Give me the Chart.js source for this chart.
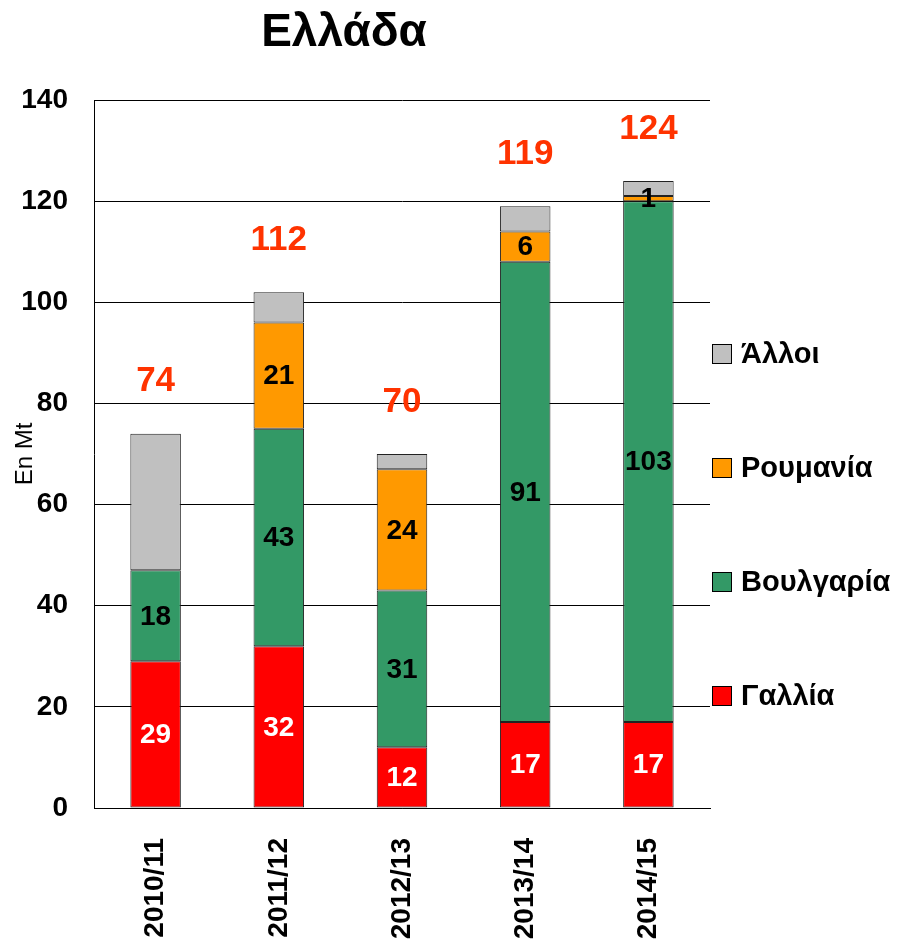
<!DOCTYPE html>
<html>
<head>
<meta charset="utf-8">
<script src="https://cdn.jsdelivr.net/npm/chart.js@4"></script>
<style>
  body { margin: 0; background: #fff; }
</style>
</head>
<body>
<canvas id="chart" width="898" height="940"></canvas>
<script>
// data
const seasons = ["2010/11", "2011/12", "2012/13", "2013/14", "2014/15"];
const gallia = [29, 32, 12, 17, 17];
const voulgaria = [18, 43, 31, 91, 103];
const roumania = [0, 21, 24, 6, 1];
const alloi = [27, 6, 3, 5, 3];
const totals = [74, 112, 70, 119, 124];
const yTicks = [0, 20, 40, 60, 80, 100, 120, 140];

const FONT = "'Liberation Sans', Arial, sans-serif";

// numbers inside the segments (not for "Άλλοι")
const segmentLabels = {
  id: "segmentLabels",
  afterDatasetsDraw(chart) {
    const ctx = chart.ctx;
    ctx.save();
    ctx.font = "bold 28px " + FONT;
    ctx.textAlign = "center";
    ctx.textBaseline = "middle";
    chart.data.datasets.forEach((ds, i) => {
      if (!ds.showValues) return;
      const meta = chart.getDatasetMeta(i);
      meta.data.forEach((bar, j) => {
        const v = ds.data[j];
        if (!v) return;
        ctx.fillStyle = ds.valueColor;
        ctx.fillText(v, bar.x, (bar.y + bar.base) / 2 + 1);
      });
    });

    // totals above each stack
    const yScale = chart.scales.y;
    ctx.font = "bold 35px " + FONT;
    ctx.fillStyle = "#FF3300";
    const meta0 = chart.getDatasetMeta(0);
    totals.forEach((t, j) => {
      let top = 0;
      chart.data.datasets.forEach(ds => { top += ds.data[j]; });
      ctx.fillText(t, meta0.data[j].x, yScale.getPixelForValue(top) - 52);
    });
    ctx.restore();
  }
};

// title and legend on the right
const decorations = {
  id: "decorations",
  afterDraw(chart) {
    const ctx = chart.ctx;
    ctx.save();
    ctx.fillStyle = "#000";
    ctx.font = "bold 46px " + FONT;
    ctx.textAlign = "center";
    ctx.textBaseline = "middle";
    ctx.fillText("Ελλάδα", 344, 33);

    // legend, last dataset first
    const items = chart.data.datasets.slice().reverse();
    ctx.font = "bold 29px " + FONT;
    ctx.textAlign = "left";
    items.forEach((ds, k) => {
      const cy = 354 + k * 114;
      ctx.fillStyle = ds.backgroundColor;
      ctx.fillRect(712, cy - 10, 19, 19);
      ctx.strokeStyle = "#000";
      ctx.lineWidth = 1;
      ctx.strokeRect(712.5, cy - 9.5, 19, 19);
      ctx.fillStyle = "#000";
      ctx.fillText(ds.label, 741, cy + 1);
    });
    ctx.restore();
  }
};

const ctx = document.getElementById("chart").getContext("2d");

new Chart(ctx, {
  type: "bar",
  data: {
    labels: seasons,
    datasets: [
      { label: "Γαλλία", data: gallia, backgroundColor: "#FF0000", showValues: true, valueColor: "#fff" },
      { label: "Βουλγαρία", data: voulgaria, backgroundColor: "#339966", showValues: true, valueColor: "#000" },
      { label: "Ρουμανία", data: roumania, backgroundColor: "#FF9900", showValues: true, valueColor: "#000" },
      { label: "Άλλοι", data: alloi, backgroundColor: "#C0C0C0", showValues: false }
    ]
  },
  options: {
    responsive: false,
    animation: false,
    datasets: {
      bar: {
        borderColor: "#222",
        borderWidth: 1,
        borderSkipped: false,
        barPercentage: 0.41,
        categoryPercentage: 1
      }
    },
    layout: {
      padding: { top: 100, right: 188, left: 0, bottom: 0 }
    },
    plugins: {
      legend: { display: false },
      title: { display: false },
      tooltip: { enabled: false }
    },
    scales: {
      x: {
        stacked: true,
        grid: { display: false, drawTicks: false },
        border: { display: true, color: "#000", width: 1 },
        ticks: {
          color: "#000",
          font: { family: FONT, size: 28, weight: "bold" },
          minRotation: 90,
          maxRotation: 90,
          autoSkip: false,
          padding: 30
        },
        afterFit(axis) { axis.height = 132; }
      },
      y: {
        stacked: true,
        min: 0,
        max: 140,
        afterBuildTicks(axis) {
          axis.ticks = yTicks.map(v => ({ value: v }));
        },
        grid: { color: "#000", lineWidth: 1, drawTicks: false },
        border: { display: true, color: "#000", width: 1 },
        ticks: {
          color: "#000",
          font: { family: FONT, size: 28, weight: "bold" },
          padding: 26
        },
        title: {
          display: true,
          text: "En Mt",
          color: "#000",
          font: { family: FONT, size: 24 },
          padding: { top: 11, bottom: 0 }
        },
        afterFit(axis) { axis.width = 94; }
      }
    }
  },
  plugins: [segmentLabels, decorations]
});
</script>
</body>
</html>
